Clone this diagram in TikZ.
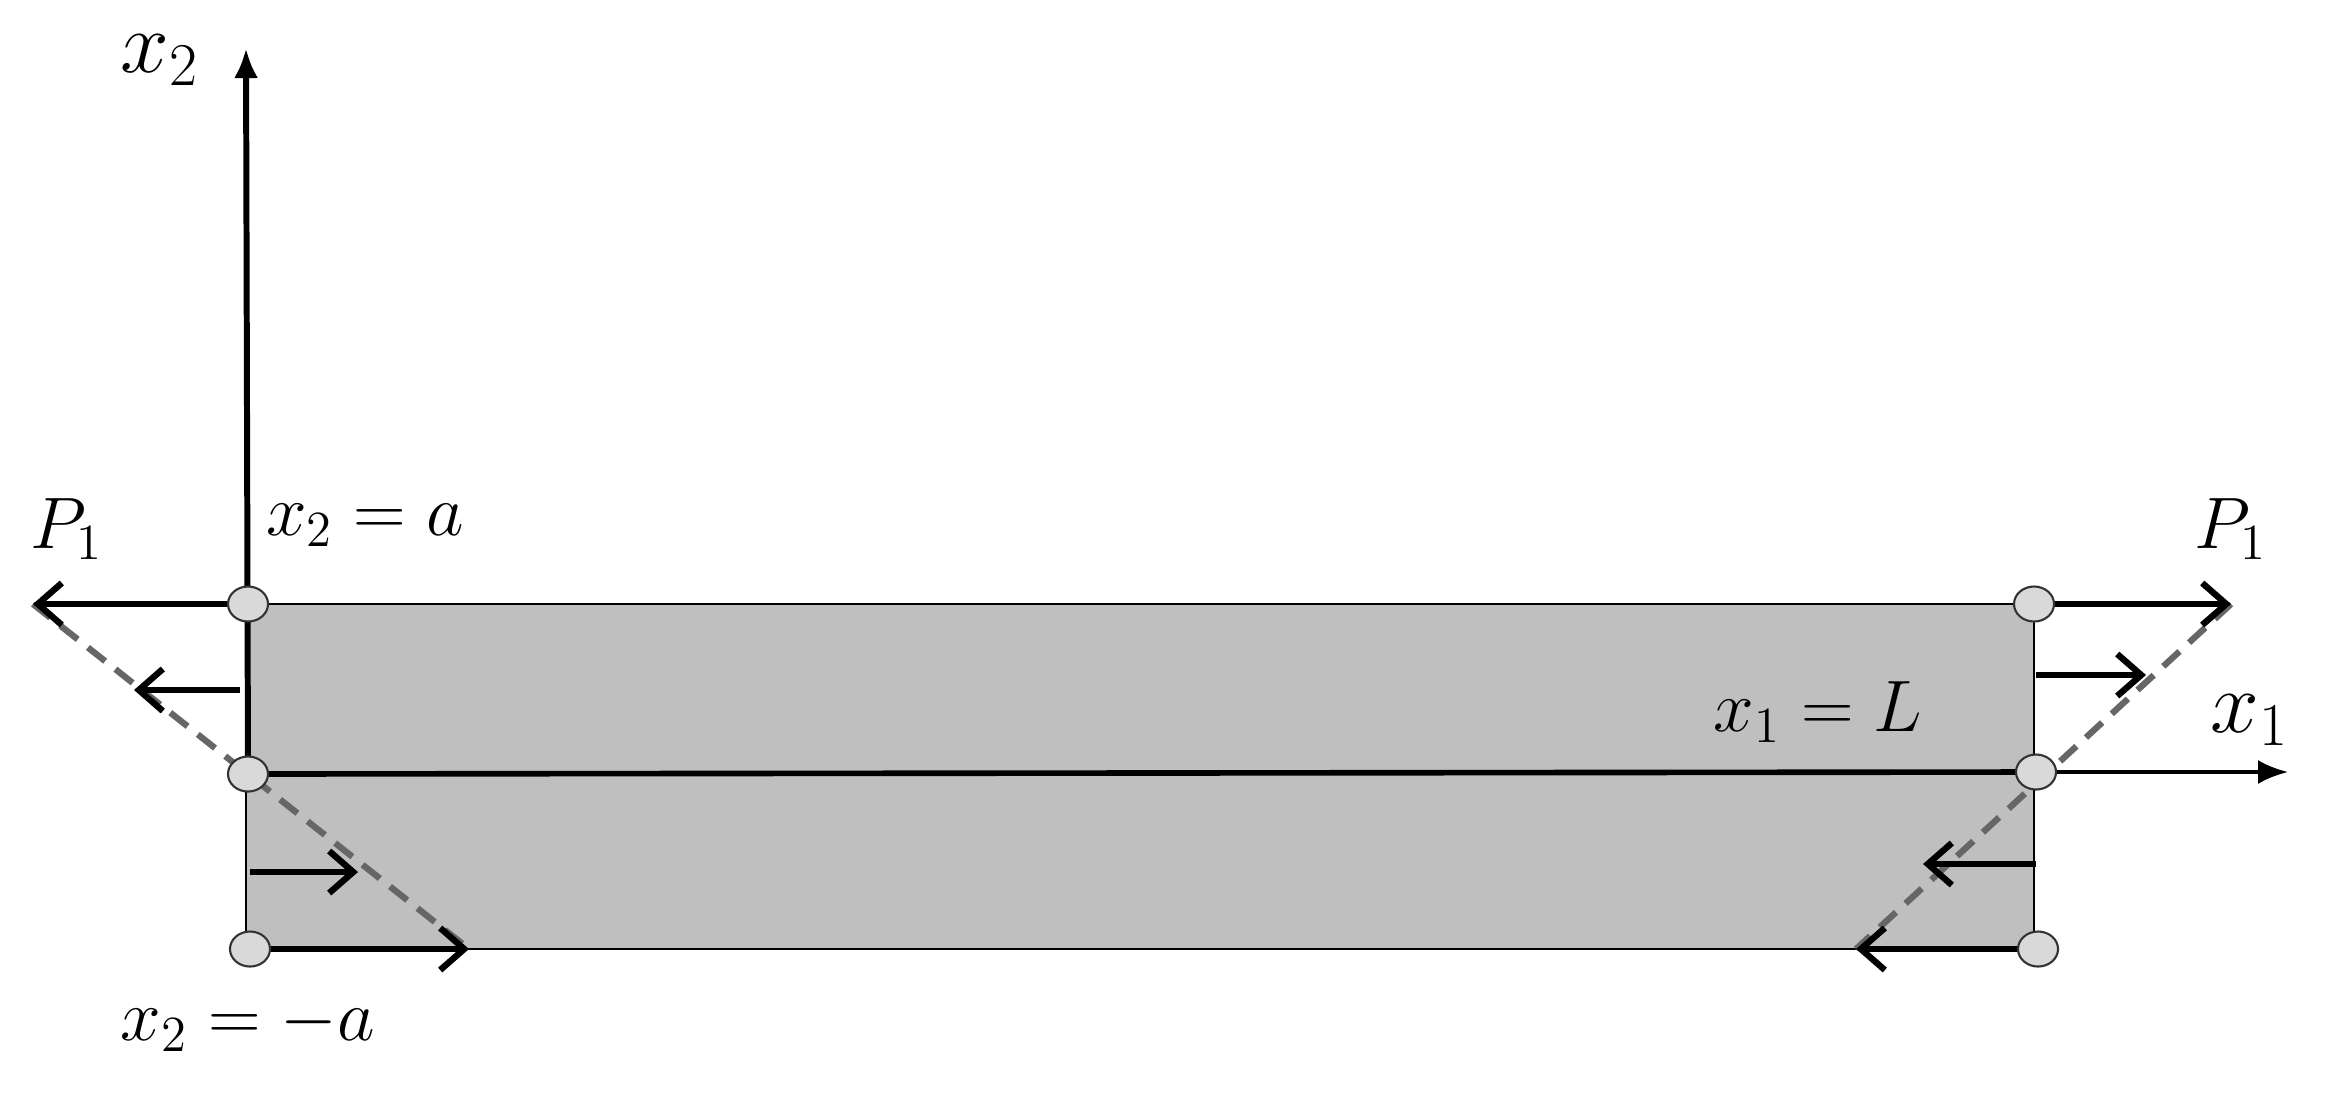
\documentclass[tikz,border=0pt]{standalone}
\usepackage{amssymb}
\usepackage{tikz}
\usetikzlibrary{arrows.meta}
\usetikzlibrary{shapes.geometric}
\tikzset{joint/.style={ellipse, draw=black!80, fill=black!15, line width=0.6pt, minimum width=4mm, minimum height=3.5mm, inner sep=0pt}}
\tikzset{load/.style={line width=1.8pt, -{Straight Barb[length=2.4mm,width=4.2mm,line width=1.8pt]}}}
\tikzset{axis/.style={-{Latex[length=3mm,width=2.4mm]}}}
\tikzset{profile/.style={dash pattern=on 2.2mm off 1.3mm, line width=1.8pt, draw=black!60}}
\tikzset{lab/.style={font=\fontsize{21}{25}\selectfont}}
\tikzset{biglab/.style={font=\fontsize{27}{32}\selectfont}}

\begin{document}
\begin{tikzpicture}[x=0.01cm,y=-0.01cm]
  \useasboundingbox (0,0) rectangle (2337,1093);
  % plate
  \fill[black!25] (246,604) rectangle (2034,949);
  \draw[line width=0.8pt] (246,604) rectangle (2034,949);
  \foreach \x/\y/\name in {
    248/604/lt,
    248/774/lm,
    250/949/lb,
    2034/604/rt,
    2036/772/rm,
    2038/949/rb,
    246/48/xtwo,
    2288/772/xone%
  } {
    \coordinate (\name) at (\x, \y);
  }
  % load tips and starts
  \foreach \x/\y/\name in {
    33/604/tlt,
    134/690/tla,
    240/690/sla,
    250/872/slb,
    358/872/tlb,
    469/949/tlc,
    2231/604/trt,
    2036/675/sra,
    2146/675/tra,
    2036/864/srb,
    1923/864/trb,
    1856/949/trc%
  } {
    \coordinate (\name) at (\x, \y);
  }
  % axes
  \draw[axis, line width=1.7pt] (lm) -- (xtwo);
  \draw[line width=1.6pt] (lm) -- (rm);
  \draw[axis, line width=1.1pt] (rm) -- (xone);
  % linear stress profiles
  \draw[profile] (tlt) -- (tlc);
  \draw[profile] (trt) -- (trc);
  \foreach \u/\v in {lt/tlt, sla/tla, slb/tlb, lb/tlc, rt/trt, sra/tra, srb/trb, rb/trc}{
    \draw[load] (\u) -- (\v);
  }
  \foreach \name in {lt, lm, lb, rt, rm, rb}{
    \node[joint] (j\name) at (\name) {};
  }
  % labels
  \node[biglab] (labxtwo) at (160,60) {$x_2$};
  \node[biglab] (labxone) at (2250,720) {$x_1$};
  \node[lab] (labpl) at (67,529) {$P_1$};
  \node[lab] (labpr) at (2231,529) {$P_1$};
  \node[lab] (laba) at (365,525) {$x_2 = a$};
  \node[lab] (labma) at (248,1025) {$x_2 = -a$};
  \node[lab] (labl) at (1818,712) {$x_1 = L$};
\end{tikzpicture}
\end{document}
